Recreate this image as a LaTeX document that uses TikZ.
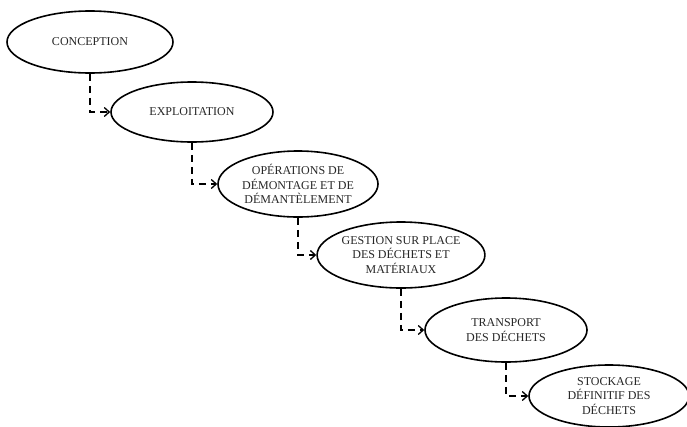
\documentclass[tikz,border=0pt]{standalone}
\usepackage{fontspec}
\setmainfont{Liberation Serif}
\usetikzlibrary{shapes.geometric,arrows.meta}
\tikzset{
  stage/.style={ellipse, draw, line width=1.6pt, inner sep=0pt, align=center,
    font=\fontsize{12}{14.5}\selectfont, text=black!85},
  flow/.style={line width=1.8pt, dash pattern=on 7pt off 5pt,
    -{Straight Barb[length=5pt,width=9pt,line width=1.3pt]}}
}
\begin{document}
\begin{tikzpicture}[x=1pt,y=-1pt]
\useasboundingbox (0,0) rectangle (687,426);
\node[stage, minimum width=166pt, minimum height=62pt] (a) at (90,42) {CONCEPTION};
\node[stage, minimum width=162pt, minimum height=60pt] (b) at (192,112) {EXPLOITATION};
\node[stage, minimum width=160pt, minimum height=66pt] (c) at (298,184) {OPÉRATIONS DE\\DÉMONTAGE ET DE\\DÉMANTÈLEMENT};
\node[stage, minimum width=162pt, minimum height=66pt] (d) at (401,255) {GESTION SUR PLACE\\DES DÉCHETS ET\\MATÉRIAUX};
\node[stage, minimum width=162pt, minimum height=64pt] (e) at (506,330) {TRANSPORT\\DES DÉCHETS};
\node[stage, minimum width=160pt, minimum height=62pt] (f) at (609,396) {STOCKAGE\\DÉFINITIF DES\\DÉCHETS};
\draw[flow] (a.south) |- (b.west);
\draw[flow] (b.south) |- (c.west);
\draw[flow] (c.south) |- (d.west);
\draw[flow] (d.south) |- (e.west);
\draw[flow] (e.south) |- (f.west);
\end{tikzpicture}
\end{document}
